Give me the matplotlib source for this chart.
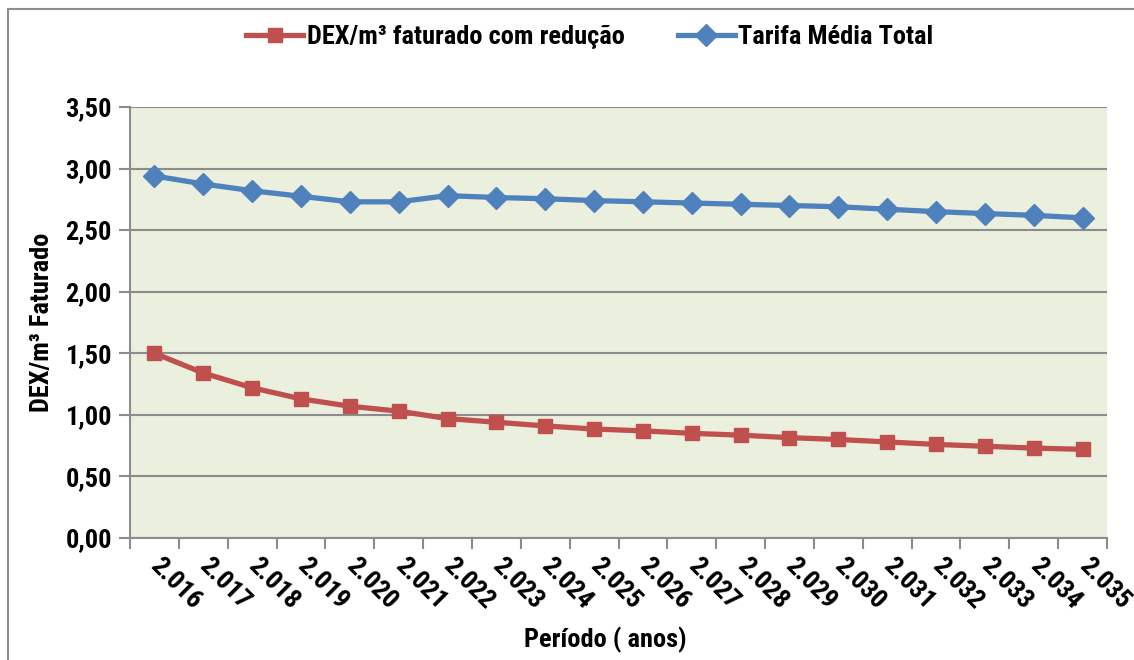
import matplotlib
matplotlib.use('Agg')
import matplotlib.pyplot as plt
from matplotlib.patches import Rectangle
import numpy as np

plt.rcParams['font.family'] = ['Roboto Condensed', 'DejaVu Sans']
plt.rcParams['font.weight'] = 'bold'

anos = ['2.016', '2.017', '2.018', '2.019', '2.020', '2.021', '2.022', '2.023', '2.024', '2.025',
        '2.026', '2.027', '2.028', '2.029', '2.030', '2.031', '2.032', '2.033', '2.034', '2.035']
dex_reducao = [1.50, 1.34, 1.22, 1.13, 1.07, 1.03, 0.97, 0.94, 0.91, 0.885,
               0.87, 0.85, 0.835, 0.815, 0.80, 0.78, 0.76, 0.745, 0.73, 0.72]
tarifa_media = [2.94, 2.875, 2.82, 2.775, 2.73, 2.73, 2.78, 2.765, 2.755, 2.74,
                2.73, 2.72, 2.71, 2.70, 2.69, 2.67, 2.65, 2.635, 2.62, 2.60]
yticks = [0.0, 0.5, 1.0, 1.5, 2.0, 2.5, 3.0, 3.5]

red = '#C0504D'
blue = '#4F81BD'
grid_c = '#8C8C8C'
fs = 19

W, H = 1134, 660
fig = plt.figure(figsize=(W/100, H/100), dpi=100)
ax = fig.add_axes([130/W, 1-538/H, (1107-130)/W, (538-107)/H])
ax.set_facecolor('#EBEFDD')

# borda do grafico
fig.patches.append(Rectangle((8/W, -0.1), 1.2, 1.1 - 9/H, transform=fig.transFigure,
                             fill=False, edgecolor='#8C8C8C', linewidth=1.5))

x = np.arange(len(anos))
ax.plot(x, dex_reducao, color=red, lw=3.8, marker='s', ms=10.5, mec=red,
        label='DEX/m³ faturado com redução')
ax.plot(x, tarifa_media, color=blue, lw=3.8, marker='D', ms=11, mec=blue,
        label='Tarifa Média Total')

ax.set_xlim(-0.5, len(anos)-0.5)
ax.set_ylim(0, 3.5)
ax.set_yticks(yticks)
ax.set_yticklabels([('%.2f' % v).replace('.', ',') for v in yticks], fontsize=fs, fontweight='bold')
ax.grid(axis='y', color=grid_c, lw=1.5)
ax.set_axisbelow(True)

ax.set_xticks(x)
ax.set_xticklabels(anos, rotation=-45, rotation_mode='anchor', ha='left', va='center',
                   fontsize=fs, fontweight='bold')
ax.tick_params(axis='x', which='major', length=0, pad=17)
ax.set_xticks(np.arange(-0.5, len(anos)), minor=True)
ax.tick_params(axis='x', which='minor', length=8, width=1.5, color=grid_c, direction='out')
ax.tick_params(axis='y', length=8, width=1.5, color=grid_c, direction='out', pad=5)

for s in ['top', 'right']:
    ax.spines[s].set_visible(False)
for s in ['left', 'bottom']:
    ax.spines[s].set_color(grid_c)
    ax.spines[s].set_linewidth(1.5)

ax.set_ylabel('DEX/m³ Faturado', fontsize=fs, fontweight='bold', labelpad=8)
fig.text(605/W, 1-640/H, 'Período ( anos)', fontsize=fs, fontweight='bold',
         ha='center', va='center')

fig.legend(loc='center', bbox_to_anchor=(590/W, 1-37/H), ncol=2, frameon=False,
           handlelength=2.15, columnspacing=2.0, handletextpad=0.15,
           prop={'weight': 'bold', 'size': fs})

fig.savefig('out.png', dpi=100, facecolor='white')
